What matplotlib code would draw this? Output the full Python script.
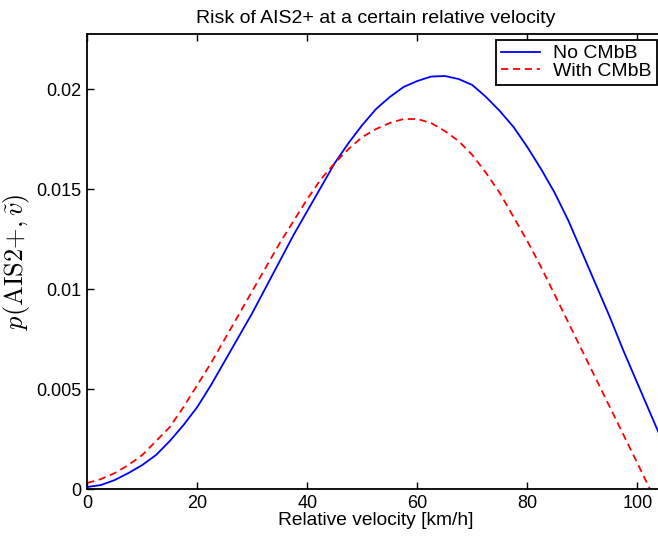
import numpy as np
import matplotlib
matplotlib.use('Agg')
import matplotlib.pyplot as plt

# values (every 2.5 km/h)
velocity_no = [0, 2.5, 5, 7.5, 10, 12.5, 15, 17.5, 20, 22.5, 25, 27.5, 30, 32.5, 35, 37.5, 40, 42.5,
               45, 47.5, 50, 52.5, 55, 57.5, 60, 62.5, 65, 67.5, 70, 72.5, 75, 77.5, 80, 82.5, 85,
               87.5, 90, 92.5, 95, 97.5, 100, 102.5, 105]
risk_no = [0.0001, 0.0002, 0.00045, 0.0008, 0.0012, 0.0017, 0.0024, 0.0032, 0.0041, 0.0052, 0.0064,
           0.0076, 0.0088, 0.0101, 0.0114, 0.0127, 0.0139, 0.0151, 0.0163, 0.0173, 0.0182, 0.0190,
           0.0196, 0.0201, 0.0204, 0.02062, 0.02065, 0.0205, 0.0202, 0.0196, 0.0189, 0.0181, 0.0171,
           0.0160, 0.0148, 0.0134, 0.0118, 0.0102, 0.0086, 0.0069, 0.0053, 0.0037, 0.0021]

velocity_cmbb = [0, 2.5, 5, 7.5, 10, 12.5, 15, 17.5, 20, 22.5, 25, 27.5, 30, 32.5, 35, 37.5, 40, 42.5,
                 45, 47.5, 50, 52.5, 55, 57.5, 60, 62.5, 65, 67.5, 70, 72.5, 75, 77.5, 80, 82.5, 85,
                 87.5, 90, 92.5, 95, 97.5, 100, 102.3]
risk_cmbb = [0.0003, 0.0005, 0.0008, 0.0012, 0.0017, 0.0024, 0.0031, 0.0041, 0.0052, 0.0063, 0.0075,
             0.0087, 0.0099, 0.0111, 0.0123, 0.0134, 0.0145, 0.0155, 0.0163, 0.0170, 0.0176, 0.0180,
             0.0183, 0.0185, 0.0185, 0.0183, 0.0179, 0.0174, 0.0167, 0.0158, 0.0148, 0.0136, 0.0124,
             0.0111, 0.0097, 0.0083, 0.0069, 0.0055, 0.0041, 0.0027, 0.0013, 0.0]

xticks = [0, 20, 40, 60, 80, 100]
yticks = [0, 0.005, 0.01, 0.015, 0.02]
yticklabels = ['0', '0.005', '0.01', '0.015', '0.02']

plt.rcParams['font.family'] = ['Liberation Sans', 'DejaVu Sans']
plt.rcParams['mathtext.fontset'] = 'cm'

fig = plt.figure(figsize=(6.58, 5.40), dpi=100)
# axes run a little past the right edge of the picture, like the cropped original
ax = fig.add_axes([87.3 / 658, 51 / 540, 577.5 / 658, 455 / 540])

ax.plot(velocity_no, risk_no, color='#0000ff', lw=1.3, label='No CMbB')
ax.plot(velocity_cmbb, risk_cmbb, color='#ff0000', lw=1.3, linestyle=(0, (4, 2.6)), label='With CMbB')

ax.set_xlim(0, 105)
ax.set_ylim(0, 0.02275)
ax.set_xticks(xticks)
ax.set_xticklabels([str(t) for t in xticks])
ax.set_yticks(yticks)
ax.set_yticklabels(yticklabels)
ax.tick_params(direction='in', length=5, width=1, labelsize=13, top=True, right=True, pad=4)
for s in ax.spines.values():
    s.set_linewidth(1.3)

ax.set_title('Risk of AIS2+ at a certain relative velocity', fontsize=14, pad=8)
ax.set_xlabel('Relative velocity [km/h]', fontsize=13.8, labelpad=0)
ax.set_ylabel(r'$p(\mathrm{AIS2{+}},\tilde{v})$', fontsize=19, labelpad=3)

leg = fig.legend(loc='upper right', bbox_to_anchor=(656.5 / 658, 1 - 40 / 540),
                 bbox_transform=fig.transFigure, fontsize=14, fancybox=False,
                 framealpha=1, edgecolor='black', borderaxespad=0, borderpad=0.25,
                 handlelength=2.0, handletextpad=0.7, labelspacing=0.0)
leg.get_frame().set_linewidth(1.3)

fig.savefig('out.png', dpi=100)
